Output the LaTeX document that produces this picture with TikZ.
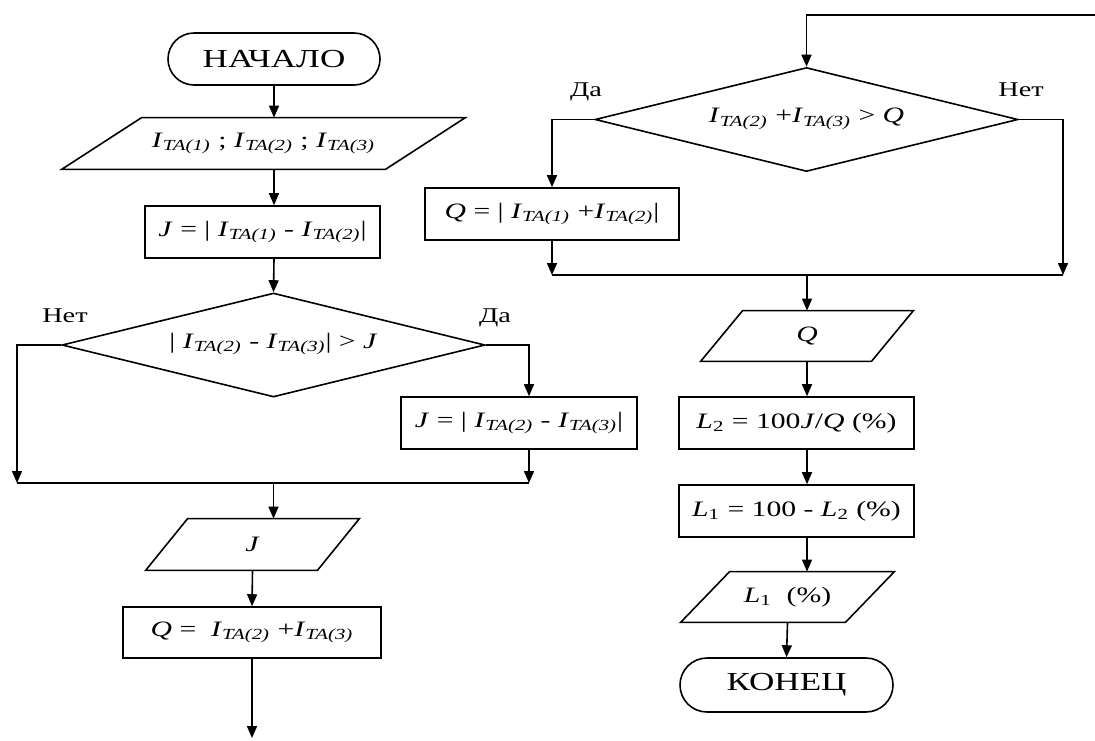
\documentclass[tikz,border=0pt]{standalone}
\usepackage{fontspec}
\setmainfont{Liberation Serif}[FakeStretch=1.35]
\usetikzlibrary{arrows.meta, positioning, calc, shapes.geometric}

\newcommand{\ita}[1]{\textit{I}\textsubscript{\textit{TA(#1)}}}
% slanted frame round a text node: name, half of the slant
\newcommand{\ioframe}[2]{%
  \draw[line] ([xshift=#2]#1.north west) -- ([xshift=#2]#1.north east)
    -- ([xshift=-#2]#1.south east) -- ([xshift=-#2]#1.south west) -- cycle;}

\begin{document}
\begin{tikzpicture}[
    x=0.5pt, y=-0.5pt,
    arrow/.style={-{Triangle[length=6pt, width=5pt]}, line width=0.8pt, draw=black},
    line/.style={line width=0.8pt, draw=black},
    termbox/.style={rectangle, rounded corners=13pt, draw, line width=0.8pt,
        minimum width=106pt, minimum height=26pt, inner sep=0pt,
        font=\fontsize{13}{15}\selectfont},
    procbox/.style={rectangle, draw, line width=0.8pt,
        minimum width=117.5pt, minimum height=26pt, inner sep=0pt,
        font=\fontsize{11}{13}\selectfont},
    iobox/.style={rectangle, minimum height=25.5pt, inner sep=0pt,
        font=\fontsize{11}{13}\selectfont},
    decbox/.style={diamond, draw, line width=0.8pt, aspect=4,
        minimum width=211.5pt, minimum height=52pt, inner sep=0pt,
        font=\fontsize{11}{13}\selectfont},
    branchlabel/.style={font=\fontsize{10.5}{12}\selectfont}
]

\useasboundingbox (0,0) rectangle (1095,740);

% === Layout constants ===
\def\branchLL{17}
\def\branchLR{529}
\def\branchRR{1063}
\def\mergeLy{483}
\def\mergeRy{275}

% === Left column ===
\node[termbox] (start) at (274, 59) {НАЧАЛО};
\node[iobox, minimum width=161.5pt] (in) at (263.5, 143.5)
    {\ita{1} ; \ita{2} ; \ita{3}};
\ioframe{in}{20pt}
\node[procbox] (j1) at (262.5, 232) {\textit{J} = | \ita{1} - \ita{2}|};
\node[decbox] (d1) at (273.5, 345)
    {\raisebox{4.5pt}{| \ita{2} - \ita{3}| > \textit{J}}};
\node[procbox, minimum width=118pt] (j2) at (519, 423)
    {\textit{J} = | \ita{2} - \ita{3}|};
\node[iobox, minimum width=85.5pt] (outJ) at (252.5, 544.5) {\textit{J}};
\ioframe{outJ}{10.5pt}
\node[procbox, minimum width=129pt, minimum height=25.5pt] (q1) at (252, 632.5)
    {\textit{Q} =\ \ \ita{2} +\ita{3}};

% === Right column ===
\node[decbox] (d2) at (806.5, 119.5)
    {\raisebox{4pt}{\ita{2} +\ita{3} > \textit{Q}}};
\node[procbox, minimum width=127pt] (q2) at (552, 214)
    {\textit{Q} = | \ita{1} +\ita{2}|};
\node[iobox, minimum width=85pt, minimum height=25pt] (outQ) at (807, 336)
    {\textit{Q}};
\ioframe{outQ}{10.5pt}
\node[procbox] (l2) at (796.5, 423)
    {\textit{L}\textsubscript{2} = 100\textit{J}/\textit{Q} (\%)};
\node[procbox] (l1) at (796.5, 511)
    {\textit{L}\textsubscript{1} = 100 - \textit{L}\textsubscript{2} (\%)};
\node[iobox, minimum width=82pt, minimum height=25pt] (outL) at (787.5, 597)
    {\textit{L}\textsubscript{1}\ \ (\%)};
\ioframe{outL}{12.25pt}
\node[termbox, minimum width=106.5pt, minimum height=27pt, rounded corners=13.5pt]
    (stop) at (786.5, 685) {КОНЕЦ};

% === Branch labels ===
\node[branchlabel] (no1) at (65, 316) {Нет};
\node[branchlabel] (yes1) at (495, 318) {Да};
\node[branchlabel] (yes2) at (586, 92) {Да};
\node[branchlabel] (no2) at (1021, 90) {Нет};

% === Free ends and merge points ===
\coordinate (mL1) at (\branchLL, \mergeLy);
\coordinate (mL2) at (\branchLR, \mergeLy);
\coordinate (mR1) at (q2.south |- 0, \mergeRy);
\coordinate (mR2) at (\branchRR, \mergeRy);
\coordinate (loop) at (1095, 15);
\coordinate (exit) at (252, 738);

% === Arrows: left column ===
\draw[arrow] (start.south) -- (start.south |- in.north);
\draw[arrow] (start.south |- in.south) -- (start.south |- j1.north);
\draw[arrow] (start.south |- j1.south) -- (d1.north);
\draw[arrow] (d1.west) -| (mL1);
\draw[arrow] (d1.east) -| (mL2 |- j2.north);
\draw[arrow] (mL2 |- j2.south) -- (mL2);
\draw[line] (mL1) -- (mL2);
\draw[arrow] (mL1 -| d1.south) -- (d1.south |- outJ.north);
\draw[arrow] (outJ.south) -- (q1.north);
\draw[arrow] (q1.south) -- (exit);

% === Arrows: right column ===
\draw[arrow] (loop) -| (d2.north);
\draw[arrow] (d2.west) -| (q2.north);
\draw[arrow] (q2.south) -- (mR1);
\draw[arrow] (d2.east) -| (mR2);
\draw[line] (mR1) -- (mR2);
\draw[arrow] (mR1 -| outQ.north) -- (outQ.north);
\draw[arrow] (outQ.south) -- (outQ.south |- l2.north);
\draw[arrow] (outQ.south |- l2.south) -- (outQ.south |- l1.north);
\draw[arrow] (outQ.south |- l1.south) -- (outQ.south |- outL.north);
\draw[arrow] (outL.south) -- (stop.north);

\end{tikzpicture}
\end{document}
